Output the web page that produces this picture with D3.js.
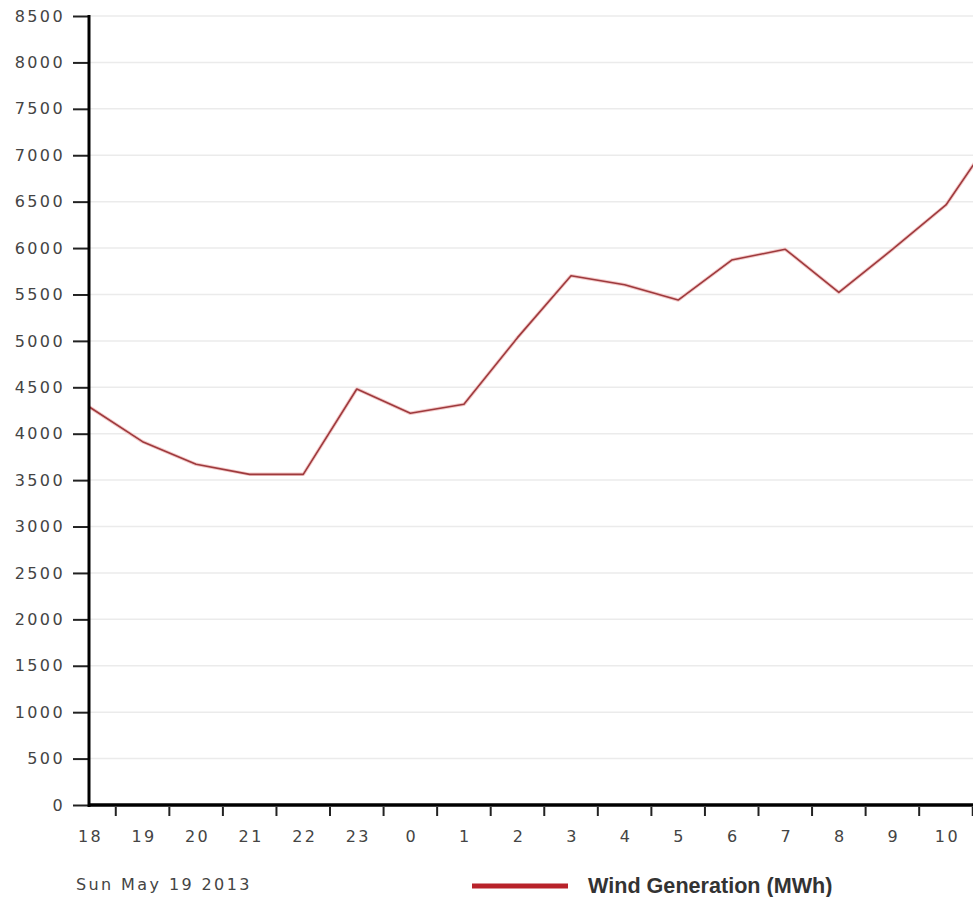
<!DOCTYPE html>
<html>
<head>
<meta charset="utf-8">
<script src="https://cdn.jsdelivr.net/npm/d3@7"></script>
<style>
  html, body { margin: 0; padding: 0; background: #fff; }
  svg { display: block; }
  .tick-label { font-family: "DejaVu Sans", Verdana, sans-serif; font-size: 16px; letter-spacing: 2.4px; fill: #444; }
</style>
</head>
<body>
<svg id="chart" width="973" height="897"></svg>
<script>
// Hourly wind generation, Sun May 19 2013
const hours = ["18","19","20","21","22","23","0","1","2","3","4","5","6","7","8","9","10","11"];
const windMWh = [4290, 3914, 3670, 3562, 3562, 4482, 4220, 4317, 5035, 5702, 5605, 5440, 5871, 5987, 5523, 5985, 6464, 7310];
const yTicks = [0, 500, 1000, 1500, 2000, 2500, 3000, 3500, 4000, 4500, 5000, 5500, 6000, 6500, 7000, 7500, 8000, 8500];
const dateLabel = "Sun May 19 2013";
const seriesName = "Wind Generation (MWh)";

(function drawChart() {
  const svg = d3.select("#chart");
  const W = 973;
  const plotLeft = 89, plotTop = 16, plotBottom = 805;
  const step = 53.56;

  const x = d3.scalePoint()
    .domain(hours)
    .range([plotLeft, plotLeft + step * (hours.length - 1)]);
  const y = d3.scaleLinear().domain([0, 8500]).range([plotBottom, plotTop]);

  // horizontal grid
  svg.append("g")
    .selectAll("line")
    .data(yTicks)
    .join("line")
    .attr("x1", plotLeft).attr("x2", W)
    .attr("y1", d => y(d)).attr("y2", d => y(d))
    .attr("stroke", "#ebebeb").attr("stroke-width", 1.5);

  // data line with a soft halo underneath
  const line = d3.line().x((d, i) => x(hours[i])).y(d => y(d));
  svg.append("path")
    .datum(windMWh)
    .attr("fill", "none")
    .attr("stroke", "#f3c9c9")
    .attr("stroke-width", 3.5)
    .attr("stroke-linejoin", "round")
    .attr("d", line);
  svg.append("path")
    .datum(windMWh)
    .attr("fill", "none")
    .attr("stroke", "#9e3a3d")
    .attr("stroke-width", 1.6)
    .attr("stroke-linejoin", "round")
    .attr("d", line);

  // y axis
  const yAxis = d3.axisLeft(y).tickValues(yTicks).tickFormat(d3.format("d")).tickSize(16).tickPadding(10);
  const gy = svg.append("g").attr("transform", `translate(${plotLeft},0)`).call(yAxis);
  gy.select(".domain").remove();
  gy.selectAll(".tick line").attr("stroke", "#222").attr("stroke-width", 2);
  gy.selectAll(".tick text")
    .attr("class", "tick-label")
    .attr("dx", "2px")
    .attr("font-size", null).attr("font-family", null).attr("fill", null);
  svg.append("line")
    .attr("x1", plotLeft).attr("x2", plotLeft)
    .attr("y1", plotTop - 1).attr("y2", plotBottom + 2)
    .attr("stroke", "#000").attr("stroke-width", 3);

  // x axis: labels on the points, tick marks halfway between them
  const gx = svg.append("g").attr("transform", `translate(0,${plotBottom})`);
  gx.append("line")
    .attr("x1", plotLeft).attr("x2", W)
    .attr("stroke", "#000").attr("stroke-width", 3.5);
  gx.selectAll("line.mark")
    .data(hours.slice(1).filter(d => x(d) - step / 2 < W))
    .join("line")
    .attr("class", "mark")
    .attr("x1", d => x(d) - step / 2).attr("x2", d => x(d) - step / 2)
    .attr("y1", 2).attr("y2", 11)
    .attr("stroke", "#222").attr("stroke-width", 2);
  gx.selectAll("text")
    .data(hours.filter(d => x(d) < W - 12))
    .join("text")
    .attr("class", "tick-label")
    .attr("x", d => x(d) + 1.5)
    .attr("y", 37)
    .attr("text-anchor", "middle")
    .text(d => d);

  // date caption
  svg.append("text")
    .attr("class", "tick-label")
    .attr("x", 76).attr("y", 890)
    .text(dateLabel);

  // legend
  svg.append("line")
    .attr("x1", 472).attr("x2", 568)
    .attr("y1", 886).attr("y2", 886)
    .attr("stroke", "#b8222a").attr("stroke-width", 5);
  svg.append("text")
    .attr("x", 588).attr("y", 893)
    .attr("font-family", "'Liberation Sans', Arial, sans-serif")
    .attr("font-weight", "bold")
    .attr("font-size", 21.6)
    .attr("fill", "#333")
    .text(seriesName);
})();
</script>
</body>
</html>
